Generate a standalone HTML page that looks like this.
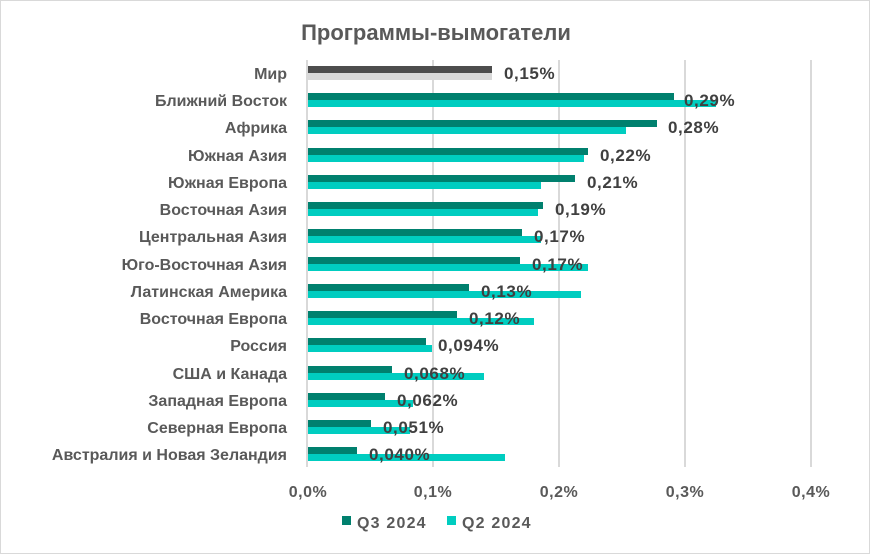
<!DOCTYPE html>
<html><head><meta charset="utf-8"><style>
body{margin:0;background:#fff}
svg{display:block;font-family:"Liberation Sans",sans-serif}
</style></head><body>
<svg width="870" height="554" viewBox="0 0 870 554" xmlns="http://www.w3.org/2000/svg">
<rect x="0.5" y="0.5" width="869" height="553" fill="#fff" stroke="#d9d9d9"/>
<text x="436" y="40" text-anchor="middle" font-size="22" font-weight="bold" fill="#595959">Программы-вымогатели</text>
<g stroke="#d9d9d9" stroke-width="2">
<line x1="307" y1="60" x2="307" y2="467"/><line x1="433" y1="60" x2="433" y2="467"/><line x1="559" y1="60" x2="559" y2="467"/><line x1="685" y1="60" x2="685" y2="467"/><line x1="811" y1="60" x2="811" y2="467"/>
</g>
<g font-size="16" font-weight="bold" fill="#595959" text-anchor="middle" letter-spacing="0.5">
<text x="308" y="497">0,0%</text><text x="433" y="497">0,1%</text><text x="559" y="497">0,2%</text><text x="685" y="497">0,3%</text><text x="811" y="497">0,4%</text>
</g>
<rect x="342" y="516" width="9" height="9" fill="#00806e"/>
<text x="357" y="528" font-size="16" font-weight="bold" fill="#595959" letter-spacing="1.2">Q3 2024</text>
<rect x="447" y="516" width="9" height="9" fill="#00cdc0"/>
<text x="462" y="528" font-size="16" font-weight="bold" fill="#595959" letter-spacing="1.2">Q2 2024</text>
<g font-size="16" font-weight="bold" fill="#595959" text-anchor="end">
<text x="287" y="79">Мир</text>
<text x="287" y="106">Ближний Восток</text>
<text x="287" y="133">Африка</text>
<text x="287" y="161">Южная Азия</text>
<text x="287" y="188">Южная Европа</text>
<text x="287" y="215">Восточная Азия</text>
<text x="287" y="242">Центральная Азия</text>
<text x="287" y="270">Юго-Восточная Азия</text>
<text x="287" y="297">Латинская Америка</text>
<text x="287" y="324">Восточная Европа</text>
<text x="287" y="351">Россия</text>
<text x="287" y="379">США и Канада</text>
<text x="287" y="406">Западная Европа</text>
<text x="287" y="433">Северная Европа</text>
<text x="287" y="460">Австралия и Новая Зеландия</text>
</g>
<g>
<rect x="308" y="66" width="184" height="7" fill="#4d4d4d"/><rect x="308" y="73" width="184" height="7" fill="#d9d9d9"/>
<rect x="308" y="93" width="366" height="7" fill="#00806e"/><rect x="308" y="100" width="408" height="7" fill="#00cdc0"/>
<rect x="308" y="120" width="349" height="7" fill="#00806e"/><rect x="308" y="127" width="318" height="7" fill="#00cdc0"/>
<rect x="308" y="148" width="280" height="7" fill="#00806e"/><rect x="308" y="155" width="276" height="7" fill="#00cdc0"/>
<rect x="308" y="175" width="267" height="7" fill="#00806e"/><rect x="308" y="182" width="233" height="7" fill="#00cdc0"/>
<rect x="308" y="202" width="235" height="7" fill="#00806e"/><rect x="308" y="209" width="230" height="7" fill="#00cdc0"/>
<rect x="308" y="229" width="214" height="7" fill="#00806e"/><rect x="308" y="236" width="233" height="7" fill="#00cdc0"/>
<rect x="308" y="257" width="212" height="7" fill="#00806e"/><rect x="308" y="264" width="280" height="7" fill="#00cdc0"/>
<rect x="308" y="284" width="161" height="7" fill="#00806e"/><rect x="308" y="291" width="273" height="7" fill="#00cdc0"/>
<rect x="308" y="311" width="149" height="7" fill="#00806e"/><rect x="308" y="318" width="226" height="7" fill="#00cdc0"/>
<rect x="308" y="338" width="118" height="7" fill="#00806e"/><rect x="308" y="345" width="124" height="7" fill="#00cdc0"/>
<rect x="308" y="366" width="84" height="7" fill="#00806e"/><rect x="308" y="373" width="176" height="7" fill="#00cdc0"/>
<rect x="308" y="393" width="77" height="7" fill="#00806e"/><rect x="308" y="400" width="105" height="7" fill="#00cdc0"/>
<rect x="308" y="420" width="63" height="7" fill="#00806e"/><rect x="308" y="427" width="102" height="7" fill="#00cdc0"/>
<rect x="308" y="447" width="49" height="7" fill="#00806e"/><rect x="308" y="454" width="197" height="7" fill="#00cdc0"/>
</g>
<g font-size="17" font-weight="bold" fill="#404040" letter-spacing="0.6">
<text x="504" y="79">0,15%</text>
<text x="684" y="106">0,29%</text>
<text x="668" y="133">0,28%</text>
<text x="600" y="161">0,22%</text>
<text x="587" y="188">0,21%</text>
<text x="555" y="215">0,19%</text>
<text x="534" y="242">0,17%</text>
<text x="532" y="270">0,17%</text>
<text x="481" y="297">0,13%</text>
<text x="469" y="324">0,12%</text>
<text x="438" y="351">0,094%</text>
<text x="404" y="379">0,068%</text>
<text x="397" y="406">0,062%</text>
<text x="383" y="433">0,051%</text>
<text x="369" y="460">0,040%</text>
</g>
</svg>
</body></html>
